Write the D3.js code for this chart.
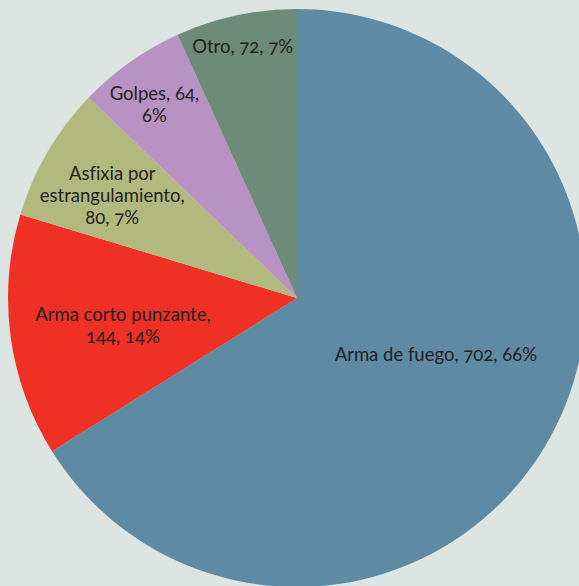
<!DOCTYPE html>
<html>
<head>
<meta charset="utf-8">
<script src="https://cdn.jsdelivr.net/npm/d3@7"></script>
<style>
  html, body { margin: 0; padding: 0; background: #dce5e1; }
  svg { display: block; }
  .lbl { font-family: Lato, "Noto Sans", sans-serif; font-size: 18.5px; fill: #231f20;
         font-variant-numeric: oldstyle-nums; font-feature-settings: "onum" 1, "liga" 0;
         font-variant-ligatures: none; }
</style>
</head>
<body>
<div id="chart"></div>
<script>
// data
var categories = ["Arma de fuego", "Arma corto punzante", "Asfixia por estrangulamiento", "Golpes", "Otro"];
var values = [702, 144, 80, 64, 72];
var percents = ["66%", "14%", "7%", "6%", "7%"];
// label lines as shown in the chart
var labelLines = [
	["Arma de fuego, 702, 66%"],
	["Arma corto punzante,", "144, 14%"],
	["Asfixia por", "estrangulamiento,", "80, 7%"],
	["Golpes, 64,", "6%"],
	["Otro, 72, 7%"]
];

var colors = ["#5f8aa4", "#ee3124", "#b2b97e", "#b992c4", "#6c8b78"];
// label placement: radius as fraction of pie radius, angle shift in degrees
var labelFrac = [0.52, 0.61, 0.73, 0.83, 0.89];
var labelShift = [-6.5, -1.5, -1.5, -1.2, 0];

var W = 579, H = 586, cx = 297, cy = 298, R = 289, lineH = 22;

var svg = d3.select("#chart").append("svg").attr("width", W).attr("height", H);
svg.append("rect").attr("width", W).attr("height", H).attr("fill", "#dce5e1");

var g = svg.append("g").attr("transform", "translate(" + cx + "," + cy + ")");

var pie = d3.pie().sort(null).value(function(d) { return d; });
var arcs = pie(values);
var arc = d3.arc().innerRadius(0).outerRadius(R);

g.selectAll("path.slice").data(arcs).enter().append("path")
	.attr("class", "slice")
	.attr("d", arc)
	.attr("fill", function(d, i) { return colors[i]; });

var lbl = g.selectAll("text.lbl").data(arcs).enter().append("text")
	.attr("class", "lbl")
	.attr("text-anchor", "middle")
	.attr("transform", function(d, i) {
		var a = (d.startAngle + d.endAngle) / 2 + labelShift[i] * Math.PI / 180;
		var r = R * labelFrac[i];
		return "translate(" + (r * Math.sin(a)) + "," + (-r * Math.cos(a)) + ")";
	});

lbl.each(function(d, i) {
	var lines = labelLines[i];
	var t = d3.select(this);
	var y0 = -(lines.length - 1) * lineH / 2 + 6;
	lines.forEach(function(s, k) {
		t.append("tspan").attr("x", 0).attr("y", y0 + k * lineH).text(s);
	});
});
</script>
</body>
</html>
